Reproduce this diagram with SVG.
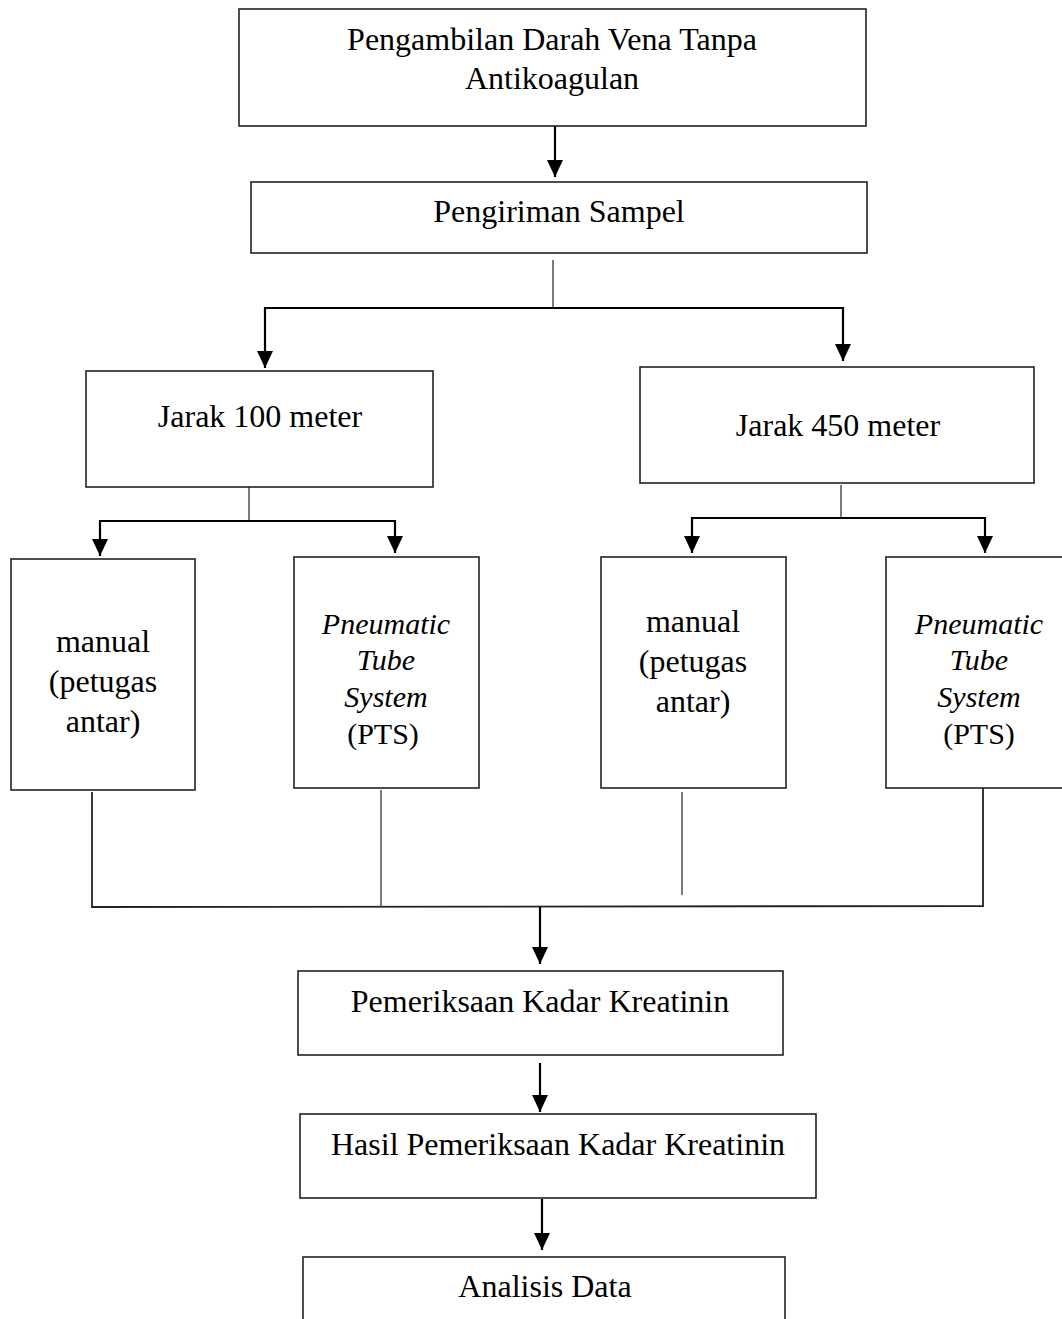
<svg xmlns="http://www.w3.org/2000/svg" width="1062" height="1319" viewBox="0 0 1062 1319">
<style>
.box{fill:#fff;stroke:#222;stroke-width:1.6}
.t{font-family:"Liberation Serif","Times New Roman",serif;font-size:32px;fill:#000;text-anchor:middle}
.ts{font-family:"Liberation Serif","Times New Roman",serif;font-size:30px;fill:#000;text-anchor:middle}
.it{font-style:italic}
.ar{stroke:#000;stroke-width:2.2;fill:none}
.st{stroke:#444;stroke-width:1.4;fill:none}
.ln{stroke:#222;stroke-width:1.8;fill:none}
</style>
<defs>
<marker id="ah" markerUnits="userSpaceOnUse" markerWidth="17" markerHeight="16" refX="17" refY="8" orient="auto-start-reverse" viewBox="0 0 17 16">
<path d="M0,0 L17,8 L0,16 Z" fill="#000"/>
</marker>
</defs>
<rect width="1062" height="1319" fill="#fff"/>
<g id="connectors">
<line class="ar" x1="555" y1="126" x2="555" y2="177" marker-end="url(#ah)"/>
<line class="st" x1="553" y1="260" x2="553" y2="308"/>
<polyline class="ar" points="265,368 265,308 843,308 843,361" marker-start="url(#ah)" marker-end="url(#ah)"/>
<line class="st" x1="249" y1="487" x2="249" y2="521"/>
<polyline class="ar" points="100,556 100,521 395,521 395,553" marker-start="url(#ah)" marker-end="url(#ah)"/>
<line class="st" x1="841" y1="485" x2="841" y2="518"/>
<polyline class="ar" points="692,553 692,518 985,518 985,553" marker-start="url(#ah)" marker-end="url(#ah)"/>
<polyline class="ln" points="92,792 92,907 983,906 983,788"/>
<line class="st" x1="381" y1="790" x2="381" y2="907"/>
<line class="st" x1="682" y1="792" x2="682" y2="895"/>
<line class="ar" x1="540" y1="907" x2="540" y2="964" marker-end="url(#ah)"/>
<line class="ar" x1="540" y1="1063" x2="540" y2="1112" marker-end="url(#ah)"/>
<line class="ar" x1="542" y1="1199" x2="542" y2="1250" marker-end="url(#ah)"/>
</g>
<g id="n1">
<rect class="box" x="239" y="9" width="627" height="117"/>
<text class="t" x="552" y="50">Pengambilan Darah Vena Tanpa</text>
<text class="t" x="552" y="89">Antikoagulan</text>
</g>
<g id="n2">
<rect class="box" x="251" y="182" width="616" height="71"/>
<text class="t" x="559" y="222">Pengiriman Sampel</text>
</g>
<g id="n3">
<rect class="box" x="86" y="371" width="347" height="116"/>
<text class="t" x="260" y="427">Jarak 100 meter</text>
</g>
<g id="n4">
<rect class="box" x="640" y="367" width="394" height="116"/>
<text class="t" x="838" y="436">Jarak 450 meter</text>
</g>
<g id="n5">
<rect class="box" x="11" y="559" width="184" height="231"/>
<text class="t" x="103" y="652">manual</text>
<text class="t" x="103" y="692">(petugas</text>
<text class="t" x="103" y="732">antar)</text>
</g>
<g id="n6">
<rect class="box" x="294" y="557" width="185" height="231"/>
<text class="ts it" x="386" y="634">Pneumatic</text>
<text class="ts it" x="386" y="670">Tube</text>
<text class="ts it" x="386" y="707">System</text>
<text class="ts" x="383" y="744">(PTS)</text>
</g>
<g id="n7">
<rect class="box" x="601" y="557" width="185" height="231"/>
<text class="t" x="693" y="632">manual</text>
<text class="t" x="693" y="672">(petugas</text>
<text class="t" x="693" y="712">antar)</text>
</g>
<g id="n8">
<rect class="box" x="886" y="557" width="185" height="231"/>
<text class="ts it" x="979" y="634">Pneumatic</text>
<text class="ts it" x="979" y="670">Tube</text>
<text class="ts it" x="979" y="707">System</text>
<text class="ts" x="979" y="744">(PTS)</text>
</g>
<g id="n9">
<rect class="box" x="298" y="971" width="485" height="84"/>
<text class="t" x="540" y="1012">Pemeriksaan Kadar Kreatinin</text>
</g>
<g id="n10">
<rect class="box" x="300" y="1114" width="516" height="84"/>
<text class="t" x="558" y="1155">Hasil Pemeriksaan Kadar Kreatinin</text>
</g>
<g id="n11">
<rect class="box" x="303" y="1257" width="482" height="80"/>
<text class="t" x="545" y="1297">Analisis Data</text>
</g>
</svg>
